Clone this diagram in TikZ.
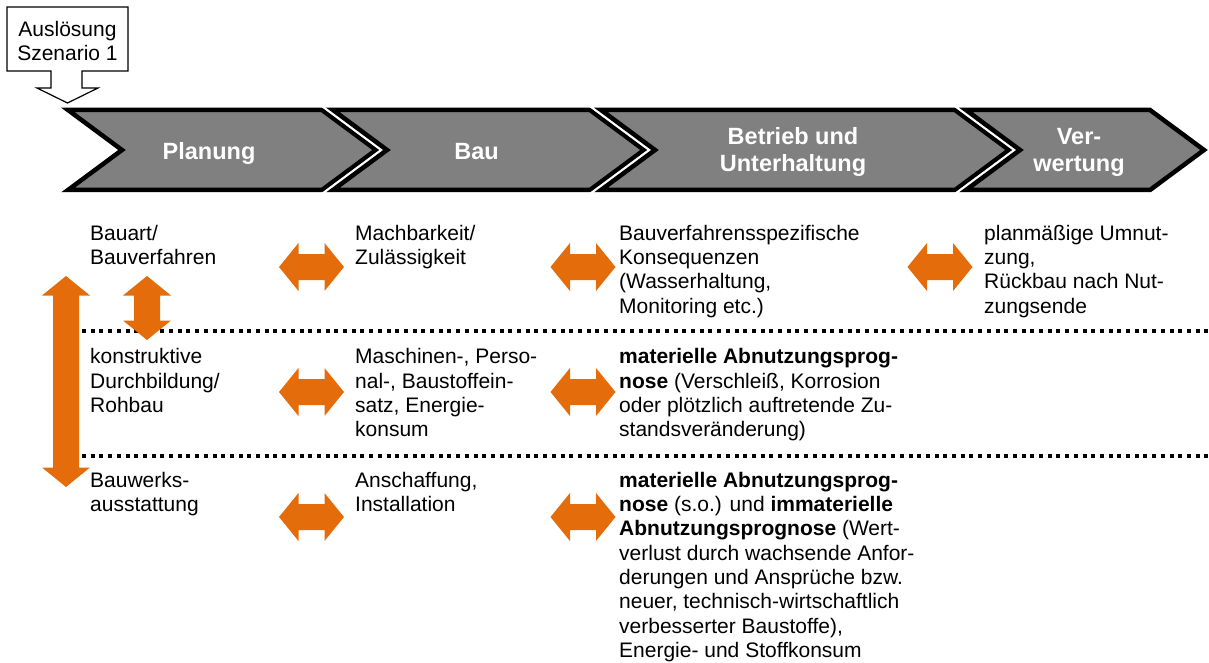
\documentclass[tikz,border=0pt]{standalone}
\usepackage{fontspec}
\setmainfont{Liberation Sans}
\definecolor{arrorange}{HTML}{E46C0A}
\definecolor{chevgray}{HTML}{808080}
\newcommand{\bodyfont}{\fontsize{21}{24.3}\selectfont}
\newcommand{\headfont}{\fontsize{23.5}{27.3}\selectfont\bfseries}
\tikzset{
  cell/.style={anchor=north west,inner sep=0,align=left,font=\bodyfont},
  phase/.style={anchor=north,inner sep=0,align=center,text=white,font=\headfont},
  dotline/.style={line width=4,dash pattern=on 4 off 4.7},
  dblarr/.pic={\fill[arrorange] (-#1,0) -- (-#1+19.5,24) -- (-#1+19.5,13) -- (#1-19.5,13) -- (#1-19.5,24) -- (#1,0)
    -- (#1-19.5,-24) -- (#1-19.5,-13) -- (-#1+19.5,-13) -- (-#1+19.5,-24) -- cycle;}
}
\begin{document}
\begin{tikzpicture}[x=1pt,y=-1pt]
    \useasboundingbox (0,0) rectangle (1209,663);
    \draw[line width=1.2,fill=white] (7,7) -- (128,7) -- (128,71) -- (82,71) -- (82,88) -- (98,88) -- (67.5,103)
      -- (37,88) -- (51,88) -- (51,71) -- (7,71) -- cycle;
    \node[anchor=north,inner sep=0,align=center,font=\bodyfont] (trigger) at (67.5,19) {\strut Auslösung\\Szenario 1};
    \foreach \l/\r in {68/322,333/590,601/955,966/1150}{
      \draw[white,line width=9] (\l,110) -- (\r,110) -- (\r+54,150) -- (\r,190) -- (\l,190) -- (\l+54,150) -- cycle;
      \draw[fill=chevgray,line width=4.5] (\l,110) -- (\r,110) -- (\r+54,150) -- (\r,190) -- (\l,190) -- (\l+54,150) -- cycle;
    }
    \node[phase] (planung) at (209,140) {\strut Planung};
    \node[phase] (bau) at (476.5,140) {\strut Bau};
    \node[phase] (betrieb) at (793,125) {\strut Betrieb und\\Unterhaltung};
    \node[phase] (verwertung) at (1079,125) {\strut Ver-\\wertung};
    \draw[dotline] (82,331) -- (1209,331);
    \draw[dotline] (82,456) -- (1209,456);
    \node[cell] (bauart) at (90,223) {\strut Bauart/\\Bauverfahren};
    \node[cell] (machbarkeit) at (355,223) {\strut Machbarkeit/\\Zulässigkeit};
    \node[cell] (konsequenzen) at (619,223) {\strut Bauverfahrensspezifische\\Konsequenzen\\(Wasserhaltung,\\Monitoring etc.)};
    \node[cell] (umnutzung) at (984,223) {\strut planmäßige Umnut-\\zung,\\Rückbau nach Nut-\\zungsende};
    \node[cell] (durchbildung) at (90,346.5) {\strut konstruktive\\Durchbildung/\\Rohbau};
    \node[cell] (maschinen) at (355,346.5) {\strut Maschinen-, Perso-\\nal-, Baustoffein-\\satz, Energie-\\konsum};
    \node[cell] (abnutzung) at (619,346.5) {\strut\textbf{materielle Abnutzungsprog-}\\\textbf{nose} (Verschleiß, Korrosion\\oder plötzlich auftretende Zu-\\standsveränderung)};
    \node[cell] (ausstattung) at (90,470) {\strut Bauwerks-\\ausstattung};
    \node[cell] (anschaffung) at (355,470) {\strut Anschaffung,\\Installation};
    \node[cell] (immateriell) at (619,470) {\strut\textbf{materielle Abnutzungsprog-}\\\textbf{nose} (s.o.) und \textbf{immaterielle}\\\textbf{Abnutzungsprognose} (Wert-\\verlust durch wachsende Anfor-\\derungen und Ansprüche bzw.\\neuer, technisch-wirtschaftlich\\verbesserter Baustoffe),\\Energie- und Stoffkonsum};
    \foreach \x/\y in {311.5/267,583/267,940/267,311.5/392,583/392,311.5/517,583/517}
      \pic at (\x,\y) {dblarr=32.5};
    \pic[rotate=90] at (147,308) {dblarr=32};
    \pic[rotate=90] at (66,381.5) {dblarr=105.5};
\end{tikzpicture}
\end{document}
